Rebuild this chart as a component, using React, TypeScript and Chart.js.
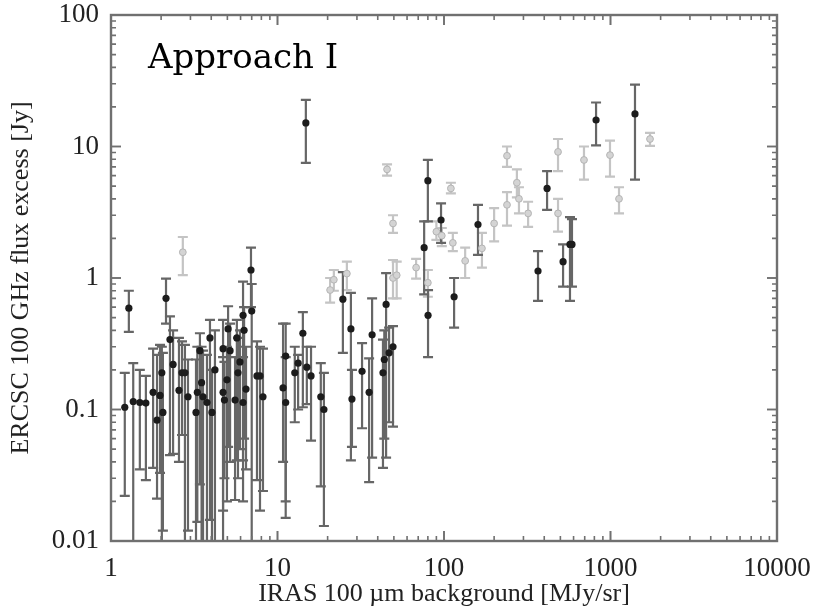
import React, { useEffect, useRef } from 'react';
import { Chart, registerables } from 'chart.js';

Chart.register(...registerables);

// ---- Data ----
// Dark points (black markers)
const darkX = [1.21, 1.28, 1.36, 1.49, 1.62, 1.79, 1.89, 1.97, 2.02, 2.05, 2.14, 2.26, 2.36, 2.56, 2.67, 2.78, 2.9, 3.24, 3.3, 3.42, 3.5, 3.57, 3.77, 3.93, 4.04, 4.21, 4.71, 4.71, 4.8, 4.97, 5.05, 5.19, 5.56, 5.7, 5.79, 5.95, 6.21, 6.3, 6.21, 6.47, 6.93, 7.0, 7.53, 7.85, 8.18, 10.8, 11.2, 11.2, 12.7, 13.3, 14.2, 15.0, 15.9, 14.8, 18.2, 19.0, 24.7, 27.6, 28.0, 32.2, 35.5, 37.0, 43.0, 43.8, 44.9, 46.8, 49.4, 80.2, 115, 80, 76, 96, 160, 416, 367, 519, 571, 587, 819, 1403];
const darkY = [0.104, 0.59, 0.115, 0.113, 0.112, 0.135, 0.083, 0.128, 0.19, 0.095, 0.7, 0.34, 0.22, 0.14, 0.19, 0.19, 0.125, 0.095, 0.135, 0.28, 0.16, 0.125, 0.113, 0.35, 0.095, 0.2, 0.29, 0.135, 0.118, 0.168, 0.41, 0.28, 0.118, 0.35, 0.19, 0.23, 0.52, 0.4, 0.113, 0.143, 1.15, 0.56, 0.18, 0.18, 0.125, 0.146, 0.255, 0.113, 0.19, 0.225, 0.38, 0.21, 0.18, 15.1, 0.125, 0.1, 0.69, 0.41, 0.12, 0.195, 0.135, 0.37, 0.19, 0.24, 0.63, 0.27, 0.3, 0.52, 0.72, 5.5, 1.7, 2.76, 2.55, 4.8, 1.13, 1.33, 1.8, 1.8, 15.9, 17.7];
const darkLo = [0.022, 0.39, 0.005, 0.035, 0.029, 0.036, 0.021, 0.033, 0.005, 0.012, 0.45, 0.045, 0.046, 0.04, 0.064, 0.005, 0.012, 0.005, 0.014, 0.027, 0.005, 0.01, 0.005, 0.0145, 0.005, 0.005, 0.017, 0.005, 0.03, 0.02, 0.052, 0.04, 0.0205, 0.041, 0.03, 0.05, 0.041, 0.06, 0.02, 0.035, 0.6, 0.005, 0.029, 0.017, 0.024, 0.04, 0.02, 0.015, 0.08, 0.1, 0.104, 0.11, 0.058, 7.5, 0.026, 0.013, 0.27, 0.041, 0.052, 0.072, 0.028, 0.043, 0.036, 0.06, 0.043, 0.08, 0.074, 0.25, 0.42, 2.7, 0.75, 1.85, 1.5, 3.3, 0.67, 0.86, 0.67, 0.86, 10.2, 5.6];
const darkHi = [0.19, 0.8, 0.225, 0.2, 0.18, 0.29, 0.26, 0.31, 0.3, 0.27, 0.99, 0.51, 0.4, 0.35, 0.33, 0.31, 0.24, 0.24, 0.3, 0.38, 0.3, 0.28, 0.26, 0.48, 0.2, 0.4, 0.48, 0.25, 0.23, 0.3, 0.61, 0.45, 0.25, 0.48, 0.35, 0.4, 0.94, 0.6, 0.25, 0.3, 1.7, 0.9, 0.33, 0.3, 0.29, 0.45, 0.45, 0.25, 0.3, 0.26, 0.55, 0.3, 0.3, 22.6, 0.225, 0.19, 1.11, 0.77, 0.2, 0.32, 0.245, 0.7, 0.34, 0.4, 1.09, 0.42, 0.43, 0.81, 1.0, 7.9, 2.7, 3.7, 3.6, 6.5, 1.6, 1.8, 2.9, 2.8, 21.6, 29.5];

// Gray points (light markers)
const grayX = [2.7, 20.7, 21.8, 26.1, 45.5, 49.4, 49.4, 52, 68, 80, 110, 90, 97, 113, 134, 169, 200, 239, 239, 274, 282, 320, 484, 484, 693, 993, 1125, 1727];
const grayY = [1.57, 0.81, 0.97, 1.08, 6.7, 2.6, 1.0, 1.05, 1.2, 0.92, 4.8, 2.25, 2.1, 1.85, 1.35, 1.68, 2.6, 8.5, 3.6, 5.3, 4.0, 3.1, 9.1, 3.1, 7.9, 8.6, 4.0, 11.4];
const grayLo = [1.05, 0.65, 0.8, 0.81, 6.0, 2.2, 0.7, 0.7, 0.99, 0.72, 4.4, 1.95, 1.75, 1.6, 1.0, 1.2, 1.9, 7.0, 2.5, 4.1, 3.1, 2.45, 6.5, 2.25, 5.6, 5.9, 3.1, 10.1];
const grayHi = [2.05, 1.0, 1.15, 1.33, 7.3, 3.0, 1.37, 1.33, 1.4, 1.15, 5.3, 2.7, 2.4, 2.2, 1.7, 2.2, 3.4, 10, 4.5, 6.7, 4.9, 3.8, 11.4, 4.0, 10, 11.1, 4.9, 12.7];

const xTitle = 'IRAS 100 µm background [MJy/sr]';
const yTitle = 'ERCSC 100 GHz flux excess [Jy]';
const panelLabel = 'Approach I';

const SERIF = '"Liberation Serif", "DejaVu Serif", serif';
const FRAME = '#707070';

const isDecade = (v: number) => {
  const l = Math.log10(v);
  return Math.abs(l - Math.round(l)) < 1e-6;
};

const errorBars = {
  id: 'errorBars',
  beforeDatasetsDraw(chart: any) {
    const { ctx, chartArea, scales } = chart;
    const xs = scales.x;
    const ys = scales.y;
    ctx.save();
    ctx.beginPath();
    ctx.rect(chartArea.left, chartArea.top, chartArea.width, chartArea.height);
    ctx.clip();
    const draw = (X: number[], LO: number[], HI: number[], color: string, w: number) => {
      ctx.strokeStyle = color;
      ctx.lineWidth = w;
      for (let i = 0; i < X.length; i++) {
        const px = xs.getPixelForValue(X[i]);
        const p1 = ys.getPixelForValue(LO[i]);
        const p2 = ys.getPixelForValue(HI[i]);
        ctx.beginPath();
        ctx.moveTo(px, p1);
        ctx.lineTo(px, p2);
        ctx.moveTo(px - 5, p1);
        ctx.lineTo(px + 5, p1);
        ctx.moveTo(px - 5, p2);
        ctx.lineTo(px + 5, p2);
        ctx.stroke();
      }
    };
    draw(grayX, grayLo, grayHi, '#c4c4c4', 2.2);
    draw(darkX, darkLo, darkHi, '#666666', 2.2);
    ctx.restore();
  },
};

const frameAndTicks = {
  id: 'frameAndTicks',
  afterDatasetsDraw(chart: any) {
    const { ctx, chartArea, scales } = chart;
    const { left, right, top, bottom } = chartArea;
    ctx.save();
    ctx.strokeStyle = FRAME;
    ctx.lineWidth = 1.6;
    for (let d = 0; d < 4; d++) {
      for (let m = 1; m <= 10; m++) {
        const v = m * Math.pow(10, d);
        const px = scales.x.getPixelForValue(v);
        const len = m === 1 || m === 10 ? 10 : 5;
        ctx.beginPath();
        ctx.moveTo(px, bottom);
        ctx.lineTo(px, bottom - len);
        ctx.moveTo(px, top);
        ctx.lineTo(px, top + len);
        ctx.stroke();
      }
    }
    for (let d = -2; d < 2; d++) {
      for (let m = 1; m <= 10; m++) {
        const v = m * Math.pow(10, d);
        const py = scales.y.getPixelForValue(v);
        const len = m === 1 || m === 10 ? 10 : 5;
        ctx.beginPath();
        ctx.moveTo(left, py);
        ctx.lineTo(left + len, py);
        ctx.moveTo(right, py);
        ctx.lineTo(right - len, py);
        ctx.stroke();
      }
    }
    ctx.lineWidth = 2.4;
    ctx.strokeRect(left, top, right - left, bottom - top);
    ctx.fillStyle = '#000';
    ctx.font = '34px "DejaVu Serif", serif';
    ctx.textBaseline = 'alphabetic';
    ctx.textAlign = 'left';
    ctx.fillText(panelLabel, left + 37, top + 53);
    ctx.restore();
  },
};

export default function App() {
  const ref = useRef<HTMLCanvasElement | null>(null);

  useEffect(() => {
    document.body.style.margin = '0';
    const canvas = ref.current;
    if (!canvas) return;
    const tickFont = { family: SERIF, size: 27 };
    const chart = new Chart(canvas, {
      type: 'scatter',
      data: {
        datasets: [
          {
            label: 'dark',
            data: darkX.map((x, i) => ({ x, y: darkY[i] })),
            backgroundColor: '#1c1c1c',
            borderColor: '#1c1c1c',
            pointRadius: 3.6,
            pointBorderWidth: 0,
          },
          {
            label: 'gray',
            data: grayX.map((x, i) => ({ x, y: grayY[i] })),
            backgroundColor: '#d4d4d4',
            borderColor: '#b4b4b4',
            pointRadius: 3.4,
            pointBorderWidth: 1,
          },
        ],
      },
      options: {
        animation: false,
        responsive: true,
        maintainAspectRatio: false,
        layout: { padding: { top: 15, right: 36, left: 0, bottom: 0 } },
        plugins: { legend: { display: false }, tooltip: { enabled: false } },
        scales: {
          x: {
            type: 'logarithmic',
            min: 1,
            max: 10000,
            grid: { display: false, drawTicks: false },
            border: { display: false },
            ticks: {
              autoSkip: false,
              maxRotation: 0,
              color: '#222',
              font: tickFont,
              padding: 12,
              callback: (v: any) => (isDecade(Number(v)) ? String(Number(v)) : ''),
            },
            title: {
              display: true,
              text: xTitle,
              color: '#222',
              font: { family: SERIF, size: 26 },
              padding: { top: 0, bottom: 0 },
            },
            afterFit: (s: any) => {
              s.height = 69;
              s.paddingLeft = 0;
              s.paddingRight = 0;
              s.paddingTop = 0;
              s.paddingBottom = 0;
            },
          } as any,
          y: {
            type: 'logarithmic',
            min: 0.01,
            max: 100,
            grid: { display: false, drawTicks: false },
            border: { display: false },
            ticks: {
              autoSkip: false,
              color: '#222',
              font: tickFont,
              padding: 12,
              callback: (v: any) => (isDecade(Number(v)) ? String(Number(v)) : ''),
            },
            title: {
              display: true,
              text: yTitle,
              color: '#222',
              font: { family: SERIF, size: 26 },
              padding: { top: 6, bottom: 0 },
            },
            afterFit: (s: any) => {
              s.width = 111;
              s.paddingLeft = 0;
              s.paddingRight = 0;
              s.paddingTop = 0;
              s.paddingBottom = 0;
            },
          } as any,
        },
      },
      plugins: [errorBars, frameAndTicks],
    });
    return () => chart.destroy();
  }, []);

  return (
    <div style={{ position: 'absolute', left: 0, top: 0, width: 813, height: 610, background: '#fff' }}>
      <canvas ref={ref} />
    </div>
  );
}
